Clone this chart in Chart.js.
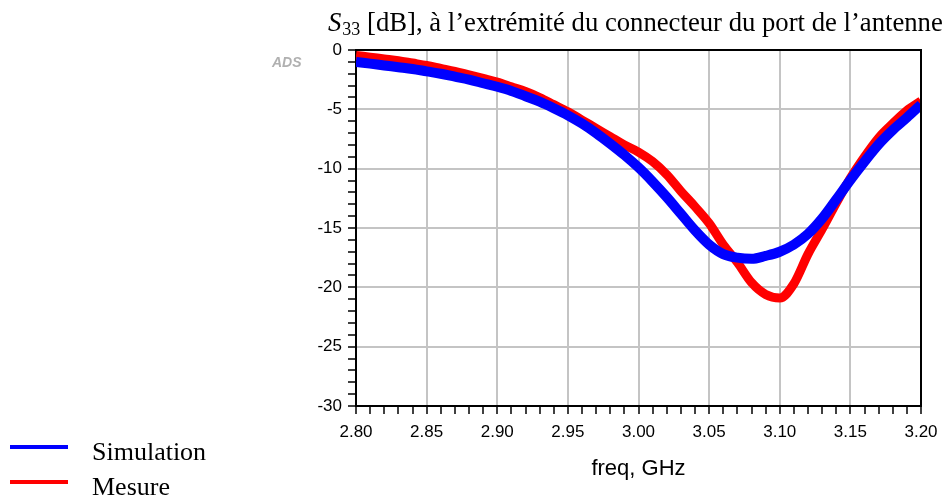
<!DOCTYPE html>
<html>
<head>
<meta charset="utf-8">
<script src="https://cdn.jsdelivr.net/npm/chart.js@4"></script>
<style>
  html, body { margin: 0; padding: 0; background: #fff; }
  #wrap { width: 948px; height: 500px; }
</style>
</head>
<body>
<div id="wrap"><canvas id="myChart" width="948" height="500"></canvas></div>
<script>
// freq, GHz
const freq = [2.80, 2.81, 2.82, 2.83, 2.84, 2.85, 2.86, 2.87, 2.88, 2.89,
              2.90, 2.91, 2.92, 2.93, 2.94, 2.95, 2.96, 2.97, 2.98, 2.99,
              3.00, 3.01, 3.02, 3.03, 3.04, 3.05, 3.06, 3.07, 3.08, 3.09,
              3.10, 3.11, 3.12, 3.13, 3.14, 3.15, 3.16, 3.17, 3.18, 3.19, 3.20];

// S33 [dB]
const simulation = [-1.0, -1.15, -1.3, -1.45, -1.6, -1.8, -2.0, -2.25, -2.5, -2.8,
                    -3.1, -3.45, -3.9, -4.35, -4.9, -5.5, -6.2, -7.0, -7.9, -8.85,
                    -9.9, -11.1, -12.4, -13.8, -15.2, -16.4, -17.2, -17.5, -17.6, -17.35,
                    -17.0, -16.4, -15.5, -14.2, -12.6, -10.95, -9.4, -7.95, -6.75, -5.7, -4.6];

const mesure = [-0.45, -0.6, -0.75, -0.9, -1.1, -1.3, -1.55, -1.8, -2.1, -2.4,
                -2.7, -3.1, -3.5, -4.0, -4.6, -5.2, -5.9, -6.6, -7.3, -8.0,
                -8.6, -9.4, -10.5, -11.9, -13.2, -14.6, -16.4, -17.9, -19.6, -20.6,
                -20.9, -19.7, -17.2, -15.1, -12.9, -10.8, -9.0, -7.4, -6.2, -5.1, -4.3];

const xTicks = [2.80, 2.85, 2.90, 2.95, 3.00, 3.05, 3.10, 3.15, 3.20];
const yTicks = [0, -5, -10, -15, -20, -25, -30];

const legendLabels = ['Simulation', 'Mesure'];

const isMajorX = v => Math.round(v * 100) % 5 === 0;
const isMajorY = v => Math.round(v) % 5 === 0;

// title, legend, ADS mark and the box
const extras = {
    id: 'extras',
    afterDatasetsDraw(chart) {
        const {ctx, chartArea: a} = chart;
        ctx.save();
        ctx.strokeStyle = '#000';
        ctx.lineWidth = 2;
        ctx.beginPath();
        ctx.moveTo(a.left, a.top);
        ctx.lineTo(a.right, a.top);
        ctx.lineTo(a.right, a.bottom);
        ctx.stroke();
        ctx.restore();
    },
    afterDraw(chart) {
        const ctx = chart.ctx;
        ctx.save();
        ctx.fillStyle = '#000';
        ctx.textBaseline = 'alphabetic';
        // title
        let x = 328;
        ctx.font = 'italic 26.7px "Liberation Serif"';
        ctx.fillText('S', x, 31);
        x += ctx.measureText('S').width + 1;
        ctx.font = '18px "Liberation Serif"';
        ctx.fillText('33', x, 35);
        x += ctx.measureText('33').width;
        ctx.font = '26.7px "Liberation Serif"';
        ctx.fillText(' [dB], à l\u2019extrémité du connecteur du port de l\u2019antenne', x, 31);

        // ADS mark
        ctx.save();
        ctx.filter = 'blur(0.6px)';
        ctx.font = 'italic bold 14px "Liberation Sans"';
        ctx.fillStyle = '#b0b0b0';
        ctx.fillText('ADS', 272, 66.5);
        ctx.restore();

        // legend
        chart.data.datasets.forEach((ds, i) => {
            const y = 447 + i * 35;
            ctx.strokeStyle = ds.borderColor;
            ctx.lineWidth = 4;
            ctx.beginPath();
            ctx.moveTo(10, y);
            ctx.lineTo(68, y);
            ctx.stroke();
            ctx.fillStyle = '#000';
            ctx.font = '26px "Liberation Serif"';
            ctx.textBaseline = 'middle';
            ctx.fillText(legendLabels[i], 92, y + 6);
        });
        ctx.restore();
    }
};

const data = {
    datasets: [{
        label: legendLabels[0],
        data: freq.map((f, i) => ({x: f, y: simulation[i]})),
        borderColor: '#0000ff',
        backgroundColor: '#0000ff',
        borderWidth: 10,
        pointRadius: 0,
        cubicInterpolationMode: 'monotone',
        clip: 0
    }, {
        label: legendLabels[1],
        data: freq.map((f, i) => ({x: f, y: mesure[i]})),
        borderColor: '#ff0000',
        backgroundColor: '#ff0000',
        borderWidth: 9,
        pointRadius: 0,
        cubicInterpolationMode: 'monotone',
        clip: 0
    }]
};

const config = {
    type: 'line',
    data,
    plugins: [extras],
    options: {
        responsive: false,
        animation: false,
        layout: {
            padding: {left: 300, right: 27, top: 50, bottom: 0}
        },
        plugins: {
            legend: {display: false},
            tooltip: {enabled: false}
        },
        scales: {
            x: {
                type: 'linear',
                min: xTicks[0],
                max: xTicks[xTicks.length - 1],
                afterFit: s => { s.height = 94; },
                ticks: {
                    stepSize: 0.01,
                    maxTicksLimit: 100,
                    autoSkip: false,
                    maxRotation: 0,
                    minRotation: 0,
                    padding: 8,
                    color: '#000',
                    font: {family: '"Liberation Sans"', size: 17},
                    callback: v => isMajorX(v) ? v.toFixed(2) : ''
                },
                grid: {
                    color: c => (c.tick && isMajorX(c.tick.value)) ? '#c4c4c4' : 'rgba(0,0,0,0)',
                    lineWidth: c => (c.tick && isMajorX(c.tick.value)) ? 2 : 0,
                    tickColor: '#000',
                    tickWidth: 1.5,
                    tickLength: 8
                },
                border: {color: '#000', width: 2},
                title: {
                    display: true,
                    text: 'freq, GHz',
                    color: '#000',
                    font: {family: '"Liberation Sans"', size: 22},
                    padding: {top: 0, bottom: 18}
                }
            },
            y: {
                min: yTicks[yTicks.length - 1],
                max: yTicks[0],
                afterFit: s => { s.width = 56; },
                ticks: {
                    stepSize: 1,
                    maxTicksLimit: 100,
                    autoSkip: false,
                    padding: 6,
                    color: '#000',
                    font: {family: '"Liberation Sans"', size: 17},
                    callback: v => isMajorY(v) ? String(v) : ''
                },
                grid: {
                    color: c => (c.tick && isMajorY(c.tick.value)) ? '#c4c4c4' : 'rgba(0,0,0,0)',
                    lineWidth: c => (c.tick && isMajorY(c.tick.value)) ? 2 : 0,
                    tickColor: '#000',
                    tickWidth: 1.5,
                    tickLength: 8
                },
                border: {color: '#000', width: 2}
            }
        }
    }
};

const myChart = new Chart(
    document.getElementById('myChart'),
    config
);
</script>
</body>
</html>
